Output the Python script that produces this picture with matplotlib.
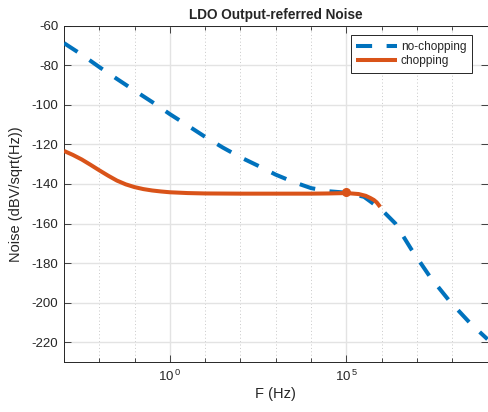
import matplotlib
matplotlib.use("Agg")
import matplotlib.pyplot as plt
from matplotlib.ticker import NullFormatter, FixedLocator
import numpy as np

# valeurs (log10 de la frequence, bruit en dBV/sqrt(Hz))
LOGF_NOCHOP = [-3.0, -2.5, -2.0, -1.5, -1.0, -0.5, 0.0, 0.5, 1.0, 1.5, 2.0, 2.5,
               3.0, 3.5, 4.0, 4.5, 5.0, 5.5, 6.0, 6.39, 6.84, 7.37, 7.92, 8.51, 9.0]
NOISE_NOCHOP = [-68.8, -74.6, -80.9, -86.9, -92.8, -98.6, -104.7, -110.4, -116.2,
                -121.6, -126.5, -130.8, -135.3, -139.0, -142.1, -143.7, -144.4,
                -146.5, -153.0, -160.0, -173.0, -186.9, -199.1, -210.4, -218.5]

LOGF_CHOP = [-3.0, -2.75, -2.5, -2.25, -2.0, -1.75, -1.5, -1.25, -1.0, -0.75, -0.5,
             -0.25, 0.0, 0.5, 1.0, 2.0, 3.0, 4.0, 4.5, 5.0, 5.35, 5.55, 5.68, 5.78,
             5.86, 5.96]
NOISE_CHOP = [-123.3, -125.3, -127.6, -130.3, -133.1, -135.8, -138.3, -140.2, -141.6,
              -142.6, -143.3, -143.8, -144.2, -144.6, -144.8, -144.9, -144.9, -144.9,
              -144.8, -144.6, -145.1, -146.0, -147.1, -148.1, -149.3, -151.6]

MARK_LOGF = [5.0]
MARK_NOISE = [-143.9]

AZUL = "#0072bd"
NARANJA = "#d95319"
TXT = "#262626"

plt.rcParams.update({
    "font.family": ["Liberation Sans", "DejaVu Sans"],
    "font.size": 10,
    "axes.unicode_minus": False,
    "mathtext.fontset": "custom",
    "mathtext.rm": "Liberation Sans",
    "mathtext.it": "Liberation Sans",
    "text.color": TXT,
    "axes.labelcolor": TXT,
    "xtick.color": TXT,
    "ytick.color": TXT,
})

fig = plt.figure(figsize=(4.88, 4.12), dpi=100)
ax = fig.add_axes([64 / 488, 50 / 412, 423.5 / 488, 336.3 / 412])

f_nc = 10 ** np.array(LOGF_NOCHOP)
f_c = 10 ** np.array(LOGF_CHOP)

ax.plot(f_nc, NOISE_NOCHOP, color=AZUL, linewidth=2.9, dashes=(4.0, 3.6),
        label="no-chopping", zorder=3)
ax.plot(f_c, NOISE_CHOP, color=NARANJA, linewidth=2.9, label="chopping",
        solid_capstyle="butt", zorder=4)
ax.plot(10 ** np.array(MARK_LOGF), MARK_NOISE, "o", color=NARANJA, markersize=5.5,
        zorder=5)

ax.set_xscale("log")
ax.set_xlim(1e-3, 1e9)
ax.set_ylim(-230, -60)
ax.set_yticks(np.arange(-220, -59, 20))
ax.xaxis.set_major_locator(FixedLocator([1e0, 1e5]))
ax.set_xticklabels([r"$10^{\,0}$", r"$10^{\,5}$"])
ax.xaxis.set_minor_locator(FixedLocator([10.0 ** k for k in range(-3, 10) if k not in (0, 5)]))
ax.xaxis.set_minor_formatter(NullFormatter())

ax.grid(True, which="major", color="#e3e3e3", linewidth=1.0, linestyle="-", zorder=0)
ax.grid(True, which="minor", axis="x", color="#c8c8c8", linewidth=0.7,
        linestyle=(0, (1, 2.5)), zorder=0)
ax.set_axisbelow(True)

ax.tick_params(which="both", direction="in", top=True, right=True, labelsize=9.5,
               width=0.6, pad=4)
ax.tick_params(which="major", length=5)
ax.tick_params(which="minor", length=3)
ax.tick_params(axis="x", which="major", pad=5)
for s in ax.spines.values():
    s.set_linewidth(0.7)
    s.set_color(TXT)

ax.set_title("LDO Output-referred Noise", fontsize=9.8, fontweight="bold", pad=5)
ax.set_xlabel("F (Hz)", fontsize=10.5, labelpad=2)
ax.set_ylabel("Noise (dBV/sqrt(Hz))", fontsize=10.5, labelpad=6)

leg = ax.legend(loc="upper right", bbox_to_anchor=(0.963, 0.971), fontsize=8.6,
                handlelength=3.4, handletextpad=0.35, borderpad=0.45,
                labelspacing=0.2, fancybox=False, framealpha=1,
                edgecolor=TXT, borderaxespad=0)
leg.get_frame().set_linewidth(0.7)

fig.savefig("out.png", dpi=100, facecolor="white")
